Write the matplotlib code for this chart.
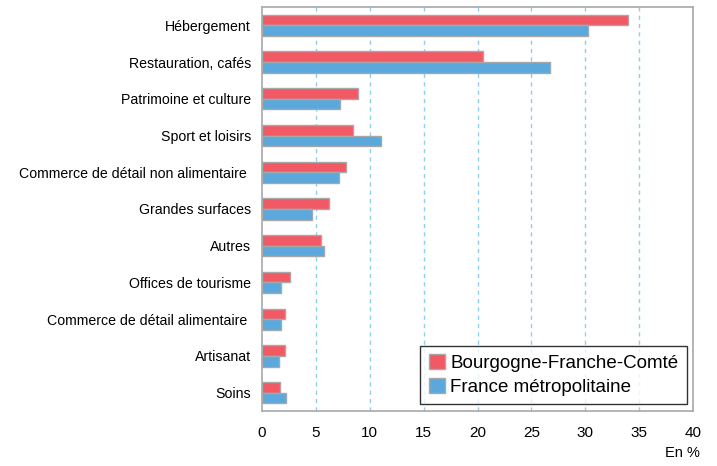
import matplotlib.pyplot as plt
import numpy as np

plt.rcParams['font.family'] = ['Liberation Sans', 'DejaVu Sans']

categories = ['Hébergement', 'Restauration, cafés', 'Patrimoine et culture',
              'Sport et loisirs', 'Commerce de détail non alimentaire ',
              'Grandes surfaces', 'Autres', 'Offices de tourisme',
              'Commerce de détail alimentaire ', 'Artisanat', 'Soins']
bfc = [34.0, 20.5, 8.9, 8.4, 7.8, 6.2, 5.5, 2.6, 2.1, 2.1, 1.7]
france = [30.3, 26.7, 7.2, 11.0, 7.1, 4.6, 5.75, 1.8, 1.8, 1.6, 2.2]
xticks = [0, 5, 10, 15, 20, 25, 30, 35, 40]

fig = plt.figure(figsize=(7.17, 4.66), dpi=100)
ax = fig.add_axes([262 / 717, 1 - 411 / 466, 431 / 717, 404 / 466])

y = np.arange(len(categories))
h = 0.29
ax.barh(y - h / 2, bfc, height=h, color='#f15a64', edgecolor='#a8a8a8',
        linewidth=1, label='Bourgogne-Franche-Comté', zorder=3)
ax.barh(y + h / 2, france, height=h, color='#5aa8dc', edgecolor='#a8a8a8',
        linewidth=1, label='France métropolitaine', zorder=3)

ax.set_ylim(len(categories) - 0.5, -0.5)
ax.set_yticks(y)
ax.set_yticklabels(categories, fontsize=10.2)
ax.set_xlim(0, 40)
ax.set_xticks(xticks)
ax.set_xticklabels([str(t) for t in xticks], fontsize=11)
ax.tick_params(axis='both', length=0)
ax.tick_params(axis='y', pad=8)
ax.tick_params(axis='x', pad=11)

for x in xticks[1:-1]:
    ax.axvline(x, color='#8ccfee', linestyle=(0, (3, 3)), linewidth=1, zorder=1)

for s in ax.spines.values():
    s.set_color('#a8a8a8')
    s.set_linewidth(1.2)

fig.text(700 / 717, 1 - 453 / 466, 'En %', ha='right', va='center', fontsize=10.5)

leg = ax.legend(loc='lower right', bbox_to_anchor=(425 / 431, 7 / 404), fontsize=13.5,
                frameon=True, fancybox=False, handlelength=0.85, handleheight=0.85,
                handletextpad=0.3, borderpad=0.45, labelspacing=0.3, borderaxespad=0)
leg.get_frame().set_edgecolor('black')
leg.get_frame().set_linewidth(1)

fig.savefig('out.png', dpi=100)
